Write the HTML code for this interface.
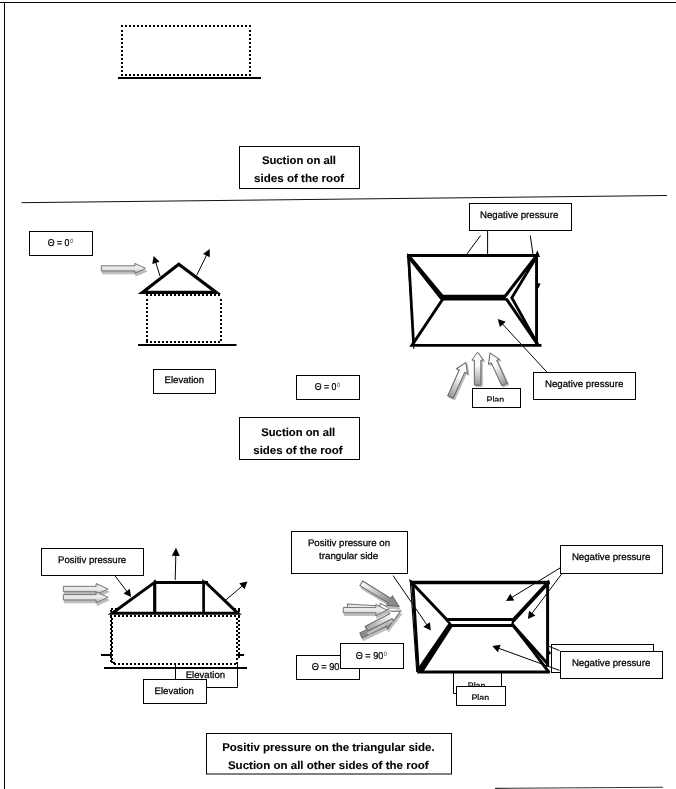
<!DOCTYPE html>
<html><head><meta charset="utf-8"><title>Roof pressure diagram</title>
<style>html,body{margin:0;padding:0;background:#fff;}body{width:676px;height:789px;overflow:hidden;font-family:"Liberation Sans",sans-serif;}svg{display:block;}text{font-family:"Liberation Sans",sans-serif;stroke:#000;stroke-width:0.25px;paint-order:stroke fill;}svg{opacity:0.999;will-change:transform;text-rendering:geometricPrecision;}</style>
</head><body>
<svg width="676" height="789" viewBox="0 0 676 789" style="font-family:'Liberation Sans',sans-serif"><defs><linearGradient id="g1" x1="0" y1="0" x2="0" y2="1"><stop offset="0" stop-color="#c4c4c4"/><stop offset="0.3" stop-color="#e9e9e9"/><stop offset="0.55" stop-color="#e9e9e9"/><stop offset="1" stop-color="#a4a4a4"/></linearGradient><linearGradient id="g2" x1="0" y1="0" x2="1" y2="0"><stop offset="0" stop-color="#989898"/><stop offset="0.6" stop-color="#fbfbfb"/><stop offset="1" stop-color="#fbfbfb"/></linearGradient><linearGradient id="g3" x1="0" y1="0" x2="1" y2="0"><stop offset="0" stop-color="#989898"/><stop offset="0.6" stop-color="#fbfbfb"/><stop offset="1" stop-color="#fbfbfb"/></linearGradient><linearGradient id="g4" x1="0" y1="0" x2="1" y2="0"><stop offset="0" stop-color="#989898"/><stop offset="0.6" stop-color="#fbfbfb"/><stop offset="1" stop-color="#fbfbfb"/></linearGradient><linearGradient id="g5" x1="0" y1="0" x2="0" y2="1"><stop offset="0" stop-color="#c4c4c4"/><stop offset="0.3" stop-color="#e9e9e9"/><stop offset="0.55" stop-color="#e9e9e9"/><stop offset="1" stop-color="#a4a4a4"/></linearGradient><linearGradient id="g6" x1="0" y1="0" x2="0" y2="1"><stop offset="0" stop-color="#c4c4c4"/><stop offset="0.3" stop-color="#e9e9e9"/><stop offset="0.55" stop-color="#e9e9e9"/><stop offset="1" stop-color="#a4a4a4"/></linearGradient><linearGradient id="g7" x1="0" y1="0" x2="1" y2="0"><stop offset="0" stop-color="#8c8c8c"/><stop offset="0.75" stop-color="#9c9c9c"/><stop offset="1" stop-color="#9c9c9c"/></linearGradient><linearGradient id="g8" x1="0" y1="0" x2="1" y2="0"><stop offset="0" stop-color="#9a9a9a"/><stop offset="0.75" stop-color="#ffffff"/><stop offset="1" stop-color="#ffffff"/></linearGradient><linearGradient id="g9" x1="0" y1="0" x2="1" y2="0"><stop offset="0" stop-color="#e8e8e8"/><stop offset="0.75" stop-color="#ffffff"/><stop offset="1" stop-color="#ffffff"/></linearGradient><linearGradient id="g10" x1="0" y1="0" x2="0" y2="1"><stop offset="0" stop-color="#c4c4c4"/><stop offset="0.3" stop-color="#e9e9e9"/><stop offset="0.55" stop-color="#e9e9e9"/><stop offset="1" stop-color="#a4a4a4"/></linearGradient><linearGradient id="g11" x1="0" y1="0" x2="1" y2="0"><stop offset="0" stop-color="#ffffff"/><stop offset="0.75" stop-color="#8c8c8c"/><stop offset="1" stop-color="#8c8c8c"/></linearGradient></defs>
<line x1="0.00" y1="2.50" x2="676.00" y2="2.50" stroke="#000" stroke-width="1" stroke-linecap="butt"/>
<line x1="4.50" y1="2.00" x2="4.50" y2="789.00" stroke="#000" stroke-width="1" stroke-linecap="butt"/>
<line x1="21.50" y1="202.70" x2="667.00" y2="195.50" stroke="#111" stroke-width="1.0" stroke-linecap="butt"/>
<line x1="495.00" y1="788.40" x2="663.00" y2="787.20" stroke="#333" stroke-width="1.1" stroke-linecap="butt"/>
<g stroke="#000" stroke-width="2" stroke-dasharray="2 2" shape-rendering="crispEdges" fill="none">
<line x1="121" y1="26" x2="251" y2="26"/>
<line x1="121" y1="75" x2="251" y2="75"/>
<line x1="122" y1="30" x2="122" y2="74"/>
<line x1="250" y1="30" x2="250" y2="74"/>
</g>
<line x1="118.00" y1="78.00" x2="261.00" y2="78.00" stroke="#000" stroke-width="2" stroke-linecap="butt"/>
<rect x="239.50" y="146.50" width="120.00" height="42.00" fill="#fff" stroke="#000" stroke-width="1"/>
<text x="261.90" y="163.80" font-size="11.2" textLength="74.10" lengthAdjust="spacingAndGlyphs" font-weight="bold" style="stroke-width:0.1px" fill="#000" >Suction on all</text>
<text x="254.10" y="181.60" font-size="11.2" textLength="90.00" lengthAdjust="spacingAndGlyphs" font-weight="bold" style="stroke-width:0.1px" fill="#000" >sides of the roof</text>
<rect x="29.50" y="231.50" width="63.00" height="24.00" fill="#fff" stroke="#000" stroke-width="1"/>
<text x="47.65" y="246.00" font-size="10" textLength="21.65" lengthAdjust="spacingAndGlyphs">Θ = 0</text>
<text x="70.30" y="242.50" font-size="6.2" textLength="2.8" lengthAdjust="spacingAndGlyphs" fill="#555" style="stroke:#555;stroke-width:0.1px">0</text>
<polygon transform="translate(102.30,271.20) rotate(0.00)" points="0.00,-2.60 33.50,-2.60 33.50,-5.00 44.50,0.00 33.50,5.00 33.50,2.60 0.00,2.60" fill="#bdbdbd" stroke="#bdbdbd" stroke-width="1"/>
<polygon transform="translate(101.30,268.40) rotate(0.00)" points="0.00,-2.60 33.50,-2.60 33.50,-5.00 44.50,0.00 33.50,5.00 33.50,2.60 0.00,2.60" fill="url(#g1)" stroke="#777" stroke-width="1" stroke-linejoin="miter"/>
<line x1="160.00" y1="276.00" x2="155.61" y2="262.01" stroke="#000" stroke-width="1" stroke-linecap="butt"/>
<polygon points="153.70,255.90 159.59,261.81 152.24,264.11" fill="#000"/>
<line x1="196.60" y1="275.50" x2="206.87" y2="254.64" stroke="#000" stroke-width="1" stroke-linecap="butt"/>
<polygon points="209.70,248.90 209.79,257.20 203.07,253.88" fill="#000"/>
<g stroke="#000" stroke-width="2" stroke-dasharray="2 2" shape-rendering="crispEdges" fill="none">
<line x1="146" y1="295" x2="222" y2="295"/>
<line x1="146" y1="342" x2="222" y2="342"/>
<line x1="147" y1="299" x2="147" y2="341"/>
<line x1="221" y1="299" x2="221" y2="341"/>
</g>
<path d="M142.40,292.40 L178.80,264.30 L216.30,292.40 Z" fill="none" stroke="#000" stroke-width="3.2" stroke-linejoin="miter"/>
<line x1="138.10" y1="345.00" x2="236.50" y2="345.00" stroke="#000" stroke-width="2" stroke-linecap="butt"/>
<rect x="153.50" y="369.50" width="62.00" height="24.00" fill="#fff" stroke="#000" stroke-width="1"/>
<text x="164.50" y="382.90" font-size="9.6" textLength="39.50" lengthAdjust="spacingAndGlyphs" fill="#000" >Elevation</text>
<rect x="296.50" y="375.50" width="63.00" height="24.00" fill="#fff" stroke="#000" stroke-width="1"/>
<text x="314.65" y="390.00" font-size="10" textLength="21.65" lengthAdjust="spacingAndGlyphs">Θ = 0</text>
<text x="337.30" y="386.50" font-size="6.2" textLength="2.8" lengthAdjust="spacingAndGlyphs" fill="#555" style="stroke:#555;stroke-width:0.1px">0</text>
<rect x="239.50" y="417.50" width="120.00" height="42.00" fill="#fff" stroke="#000" stroke-width="1"/>
<text x="261.20" y="436.30" font-size="11.2" textLength="74.00" lengthAdjust="spacingAndGlyphs" font-weight="bold" style="stroke-width:0.1px" fill="#000" >Suction on all</text>
<text x="253.30" y="454.00" font-size="11.2" textLength="89.20" lengthAdjust="spacingAndGlyphs" font-weight="bold" style="stroke-width:0.1px" fill="#000" >sides of the roof</text>
<rect x="469.50" y="203.50" width="102.00" height="27.00" fill="#fff" stroke="#000" stroke-width="1"/>
<text x="480.00" y="217.60" font-size="9.6" textLength="78.30" lengthAdjust="spacingAndGlyphs" fill="#000" >Negative pressure</text>
<line x1="480.60" y1="235.50" x2="467.00" y2="253.90" stroke="#000" stroke-width="1" stroke-linecap="butt"/>
<line x1="487.60" y1="230.60" x2="487.60" y2="254.00" stroke="#000" stroke-width="1" stroke-linecap="butt"/>
<line x1="530.30" y1="235.50" x2="532.90" y2="253.90" stroke="#000" stroke-width="1" stroke-linecap="butt"/>
<line x1="407.20" y1="255.50" x2="538.00" y2="255.50" stroke="#000" stroke-width="3" stroke-linecap="butt"/>
<line x1="536.55" y1="254.00" x2="536.55" y2="346.00" stroke="#000" stroke-width="2.9" stroke-linecap="butt"/>
<line x1="408.60" y1="256.00" x2="413.70" y2="346.00" stroke="#000" stroke-width="2.8" stroke-linecap="butt"/>
<line x1="407.60" y1="253.50" x2="413.90" y2="349.00" stroke="#000" stroke-width="1" stroke-linecap="butt"/>
<line x1="441.50" y1="297.60" x2="506.00" y2="297.60" stroke="#000" stroke-width="5.8" stroke-linecap="butt"/>
<line x1="408.50" y1="255.50" x2="443.00" y2="297.00" stroke="#000" stroke-width="3" stroke-linecap="butt"/>
<line x1="407.60" y1="256.00" x2="441.50" y2="299.00" stroke="#000" stroke-width="2.6" stroke-linecap="butt"/>
<path d="M443.5,298 L411.9,345.4 L541.5,345.4" fill="none" stroke="#000" stroke-width="2.9" stroke-linejoin="miter" stroke-miterlimit="10"/>
<line x1="536.30" y1="256.00" x2="505.30" y2="296.00" stroke="#000" stroke-width="3" stroke-linecap="butt"/>
<line x1="506.00" y1="298.50" x2="538.00" y2="345.00" stroke="#000" stroke-width="3" stroke-linecap="butt"/>
<path d="M536.5,257 L511.8,297.7 L537.5,344" fill="none" stroke="#000" stroke-width="2.8" stroke-linejoin="miter"/>
<polygon points="537.4,250.2 540,257 534.5,257" fill="#000"/>
<polygon points="538.4,288.5 536,283 540.6,283.5" fill="#000"/>
<line x1="546.90" y1="372.10" x2="502.14" y2="323.60" stroke="#000" stroke-width="1" stroke-linecap="butt"/>
<polygon points="497.80,318.90 505.76,321.63 499.88,327.05" fill="#000"/>
<rect x="533.50" y="372.50" width="102.00" height="27.00" fill="#fff" stroke="#000" stroke-width="1"/>
<text x="545.00" y="386.50" font-size="9.6" textLength="78.30" lengthAdjust="spacingAndGlyphs" fill="#000" >Negative pressure</text>
<polygon transform="translate(452.00,398.50) rotate(-66.08)" points="0.00,-3.00 28.24,-3.00 28.24,-6.00 37.74,0.00 28.24,6.00 28.24,3.00 0.00,3.00" fill="#bdbdbd" stroke="#bdbdbd" stroke-width="1"/>
<polygon transform="translate(450.50,397.00) rotate(-66.08)" points="0.00,-3.00 28.24,-3.00 28.24,-6.00 37.74,0.00 28.24,6.00 28.24,3.00 0.00,3.00" fill="url(#g2)" stroke="#666" stroke-width="1" stroke-linejoin="miter"/>
<polygon transform="translate(479.10,386.60) rotate(-90.00)" points="0.00,-3.25 25.00,-3.25 25.00,-5.70 33.00,0.00 25.00,5.70 25.00,3.25 0.00,3.25" fill="#bdbdbd" stroke="#bdbdbd" stroke-width="1"/>
<polygon transform="translate(477.60,385.10) rotate(-90.00)" points="0.00,-3.25 25.00,-3.25 25.00,-5.70 33.00,0.00 25.00,5.70 25.00,3.25 0.00,3.25" fill="url(#g3)" stroke="#666" stroke-width="1" stroke-linejoin="miter"/>
<polygon transform="translate(506.00,385.90) rotate(-114.79)" points="0.00,-3.00 25.09,-3.00 25.09,-6.00 34.59,0.00 25.09,6.00 25.09,3.00 0.00,3.00" fill="#bdbdbd" stroke="#bdbdbd" stroke-width="1"/>
<polygon transform="translate(504.50,384.40) rotate(-114.79)" points="0.00,-3.00 25.09,-3.00 25.09,-6.00 34.59,0.00 25.09,6.00 25.09,3.00 0.00,3.00" fill="url(#g4)" stroke="#666" stroke-width="1" stroke-linejoin="miter"/>
<rect x="472.50" y="388.50" width="48.00" height="19.00" fill="#fff" stroke="#000" stroke-width="1"/>
<text x="486.50" y="402.60" font-size="9.6" textLength="17.70" lengthAdjust="spacingAndGlyphs" fill="#000" >Plan</text>
<rect x="474" y="401.7" width="45" height="5" fill="#fff"/>
<rect x="41.50" y="548.50" width="102.00" height="27.00" fill="#fff" stroke="#000" stroke-width="1"/>
<text x="58.00" y="563.00" font-size="9.6" textLength="68.20" lengthAdjust="spacingAndGlyphs" fill="#000" >Positiv pressure</text>
<line x1="115.20" y1="576.00" x2="127.25" y2="591.99" stroke="#000" stroke-width="1" stroke-linecap="butt"/>
<polygon points="131.10,597.10 123.45,593.60 129.84,588.78" fill="#000"/>
<polygon transform="translate(64.40,591.80) rotate(0.00)" points="0.00,-2.70 32.70,-2.70 32.70,-5.50 44.70,0.00 32.70,5.50 32.70,2.70 0.00,2.70" fill="#bdbdbd" stroke="#bdbdbd" stroke-width="1"/>
<polygon transform="translate(63.40,589.00) rotate(0.00)" points="0.00,-2.70 32.70,-2.70 32.70,-5.50 44.70,0.00 32.70,5.50 32.70,2.70 0.00,2.70" fill="url(#g5)" stroke="#777" stroke-width="1" stroke-linejoin="miter"/>
<polygon transform="translate(64.40,600.10) rotate(0.00)" points="0.00,-2.70 32.70,-2.70 32.70,-5.50 44.70,0.00 32.70,5.50 32.70,2.70 0.00,2.70" fill="#bdbdbd" stroke="#bdbdbd" stroke-width="1"/>
<polygon transform="translate(63.40,597.30) rotate(0.00)" points="0.00,-2.70 32.70,-2.70 32.70,-5.50 44.70,0.00 32.70,5.50 32.70,2.70 0.00,2.70" fill="url(#g6)" stroke="#777" stroke-width="1" stroke-linejoin="miter"/>
<line x1="175.20" y1="579.90" x2="175.83" y2="554.80" stroke="#000" stroke-width="1" stroke-linecap="butt"/>
<polygon points="176.00,547.80 179.80,555.90 171.80,555.70" fill="#000"/>
<line x1="225.60" y1="600.20" x2="242.63" y2="585.66" stroke="#000" stroke-width="1" stroke-linecap="butt"/>
<polygon points="247.50,581.50 244.47,589.35 239.28,583.26" fill="#000"/>
<path d="M175.5,663.5 L175.5,687.5 L237.5,687.5 L237.5,663.5" fill="#fff" stroke="#000" stroke-width="1"/>
<text x="185.70" y="677.60" font-size="9.6" textLength="39.50" lengthAdjust="spacingAndGlyphs" fill="#000" >Elevation</text>
<g stroke="#000" stroke-width="2" stroke-dasharray="2 2" shape-rendering="crispEdges" fill="none">
<line x1="110" y1="615.5" x2="240" y2="615.5"/>
<line x1="114" y1="664" x2="236" y2="664"/>
<line x1="111" y1="616" x2="111" y2="662"/>
<line x1="112.4" y1="618" x2="112.4" y2="662"/>
<line x1="237" y1="618" x2="237" y2="665"/>
<line x1="239" y1="616" x2="239" y2="659"/>
<path d="M111,612 L111,608 M111,608.5 L118,608.5"/><path d="M239,612 L239,608 M240,608.5 L233,608.5"/>
<path d="M112,661 L112,663 M113,663 L115,663"/>
</g>
<path d="M112.20,613.30 L154.60,582.40 L205.70,582.40 L238.00,613.30 Z" fill="none" stroke="#000" stroke-width="3" stroke-linejoin="miter"/>
<line x1="154.70" y1="582.40" x2="154.70" y2="613.00" stroke="#000" stroke-width="3.2" stroke-linecap="butt"/>
<line x1="203.60" y1="580.50" x2="203.60" y2="613.00" stroke="#000" stroke-width="2.7" stroke-linecap="butt"/>
<line x1="205.00" y1="582.40" x2="208.00" y2="582.40" stroke="#000" stroke-width="2.8" stroke-linecap="butt"/>
<polygon points="202.3,578.8 204.5,581.5 202.3,581.5" fill="#000"/>
<polygon points="153.2,581.2 155.3,579.2 156.2,581.2" fill="#000"/>
<line x1="101.00" y1="655.00" x2="112.00" y2="655.00" stroke="#000" stroke-width="2" stroke-linecap="butt"/>
<line x1="236.50" y1="655.00" x2="244.10" y2="655.00" stroke="#000" stroke-width="2" stroke-linecap="butt"/>
<line x1="104.00" y1="668.00" x2="247.00" y2="668.00" stroke="#000" stroke-width="1.9" stroke-linecap="butt"/>
<rect x="143.50" y="679.50" width="63.00" height="24.00" fill="#fff" stroke="#000" stroke-width="1"/>
<text x="154.60" y="693.70" font-size="9.6" textLength="39.30" lengthAdjust="spacingAndGlyphs" fill="#000" >Elevation</text>
<rect x="291.50" y="531.50" width="116.00" height="42.00" fill="#fff" stroke="#000" stroke-width="1"/>
<text x="307.90" y="545.60" font-size="9.6" textLength="82.20" lengthAdjust="spacingAndGlyphs" fill="#000" >Positiv pressure on</text>
<text x="319.00" y="559.10" font-size="9.6" textLength="59.20" lengthAdjust="spacingAndGlyphs" fill="#000" >trangular side</text>
<polygon transform="translate(362.00,638.20) rotate(-25.73)" points="0.00,-2.75 26.85,-2.75 26.85,-5.50 36.85,0.00 26.85,5.50 26.85,2.75 0.00,2.75" fill="#bdbdbd" stroke="#bdbdbd" stroke-width="1"/>
<polygon transform="translate(361.00,635.40) rotate(-25.73)" points="0.00,-2.75 26.85,-2.75 26.85,-5.50 36.85,0.00 26.85,5.50 26.85,2.75 0.00,2.75" fill="url(#g7)" stroke="#666" stroke-width="1" stroke-linejoin="miter"/>
<polygon transform="translate(367.40,631.60) rotate(-27.30)" points="0.00,-2.75 27.60,-2.75 27.60,-5.50 38.60,0.00 27.60,5.50 27.60,2.75 0.00,2.75" fill="#bdbdbd" stroke="#bdbdbd" stroke-width="1"/>
<polygon transform="translate(366.40,628.80) rotate(-27.30)" points="0.00,-2.75 27.60,-2.75 27.60,-5.50 38.60,0.00 27.60,5.50 27.60,2.75 0.00,2.75" fill="url(#g8)" stroke="#666" stroke-width="1" stroke-linejoin="miter"/>
<polygon transform="translate(348.40,608.80) rotate(3.36)" points="0.00,-2.00 32.67,-2.00 32.67,-4.50 42.67,0.00 32.67,4.50 32.67,2.00 0.00,2.00" fill="#bdbdbd" stroke="#bdbdbd" stroke-width="1"/>
<polygon transform="translate(347.40,606.00) rotate(3.36)" points="0.00,-2.00 32.67,-2.00 32.67,-4.50 42.67,0.00 32.67,4.50 32.67,2.00 0.00,2.00" fill="url(#g9)" stroke="#777" stroke-width="1" stroke-linejoin="miter"/>
<polygon transform="translate(344.30,612.90) rotate(0.00)" points="0.00,-2.65 32.50,-2.65 32.50,-5.60 43.70,0.00 32.50,5.60 32.50,2.65 0.00,2.65" fill="#bdbdbd" stroke="#bdbdbd" stroke-width="1"/>
<polygon transform="translate(343.30,610.10) rotate(0.00)" points="0.00,-2.65 32.50,-2.65 32.50,-5.60 43.70,0.00 32.50,5.60 32.50,2.65 0.00,2.65" fill="url(#g10)" stroke="#777" stroke-width="1" stroke-linejoin="miter"/>
<polygon transform="translate(362.30,586.10) rotate(31.56)" points="0.00,-2.65 33.13,-2.65 33.13,-5.50 44.13,0.00 33.13,5.50 33.13,2.65 0.00,2.65" fill="#bdbdbd" stroke="#bdbdbd" stroke-width="1"/>
<polygon transform="translate(361.30,583.30) rotate(31.56)" points="0.00,-2.65 33.13,-2.65 33.13,-5.50 44.13,0.00 33.13,5.50 33.13,2.65 0.00,2.65" fill="url(#g11)" stroke="#666" stroke-width="1" stroke-linejoin="miter"/>
<rect x="296.50" y="655.50" width="63.00" height="24.00" fill="#fff" stroke="#000" stroke-width="1"/>
<text x="311.70" y="670.10" font-size="10" textLength="27.80" lengthAdjust="spacingAndGlyphs">Θ = 90</text>
<rect x="340.50" y="643.50" width="63.00" height="25.00" fill="#fff" stroke="#000" stroke-width="1"/>
<text x="355.80" y="659.20" font-size="10" textLength="27.50" lengthAdjust="spacingAndGlyphs">Θ = 90</text>
<text x="384.10" y="655.70" font-size="6.2" textLength="2.8" lengthAdjust="spacingAndGlyphs" fill="#555" style="stroke:#555;stroke-width:0.1px">0</text>
<path d="M453.5,672 L453.5,693.5 L501.5,693.5 L501.5,672" fill="#fff" stroke="#000" stroke-width="1"/>
<text x="467.80" y="689.00" font-size="9.6" textLength="17.60" lengthAdjust="spacingAndGlyphs" fill="#000" >Plan</text>
<rect x="456.50" y="686.50" width="49.00" height="19.00" fill="#fff" stroke="#000" stroke-width="1"/>
<text x="471.50" y="701.00" font-size="9.6" textLength="17.60" lengthAdjust="spacingAndGlyphs" fill="#000" >Plan</text>
<rect x="458" y="700" width="46" height="4.8" fill="#fff"/>
<rect x="560.50" y="545.50" width="102.00" height="28.00" fill="#fff" stroke="#000" stroke-width="1"/>
<text x="571.90" y="560.20" font-size="9.6" textLength="78.40" lengthAdjust="spacingAndGlyphs" fill="#000" >Negative pressure</text>
<rect x="551.50" y="644.50" width="102.00" height="28.00" fill="#fff" stroke="#000" stroke-width="1"/>
<line x1="410.90" y1="582.50" x2="549.60" y2="582.50" stroke="#000" stroke-width="3.3" stroke-linecap="butt"/>
<line x1="417.20" y1="672.00" x2="549.80" y2="672.00" stroke="#000" stroke-width="2.8" stroke-linecap="butt"/>
<line x1="547.60" y1="581.00" x2="547.60" y2="666.50" stroke="#000" stroke-width="3" stroke-linecap="butt"/>
<line x1="412.80" y1="583.00" x2="418.30" y2="672.00" stroke="#000" stroke-width="3" stroke-linecap="butt"/>
<line x1="410.30" y1="580.50" x2="416.80" y2="672.00" stroke="#000" stroke-width="1.2" stroke-linecap="butt"/>
<line x1="445.90" y1="619.60" x2="513.50" y2="619.60" stroke="#000" stroke-width="3" stroke-linecap="butt"/>
<line x1="449.60" y1="625.40" x2="512.00" y2="625.40" stroke="#000" stroke-width="3" stroke-linecap="butt"/>
<line x1="412.50" y1="583.50" x2="448.10" y2="621.00" stroke="#000" stroke-width="3" stroke-linecap="butt"/>
<line x1="446.50" y1="619.50" x2="450.50" y2="624.50" stroke="#000" stroke-width="2.5" stroke-linecap="butt"/>
<polygon points="417,669.3 422.4,673.2 452.6,626.4 448.4,623.4" fill="#000"/>
<line x1="547.80" y1="583.00" x2="512.80" y2="620.80" stroke="#000" stroke-width="4" stroke-linecap="butt"/>
<line x1="512.40" y1="624.50" x2="547.60" y2="663.80" stroke="#000" stroke-width="3" stroke-linecap="butt"/>
<path d="M512.4,624.5 L531,648.3 L549.2,672.6" fill="none" stroke="#000" stroke-width="3" stroke-linejoin="round"/>
<line x1="513.30" y1="620.00" x2="512.00" y2="626.00" stroke="#000" stroke-width="2.2" stroke-linecap="butt"/>
<polygon points="409,579 416,583 411,586" fill="#000"/>
<polygon points="548.2,579.2 550.4,584 546,584" fill="#000"/>
<line x1="393.10" y1="575.60" x2="427.18" y2="625.22" stroke="#000" stroke-width="1" stroke-linecap="butt"/>
<polygon points="430.80,630.50 423.31,626.66 429.91,622.14" fill="#000"/>
<line x1="560.50" y1="567.70" x2="511.46" y2="597.66" stroke="#000" stroke-width="1" stroke-linecap="butt"/>
<polygon points="506.00,601.00 510.23,593.73 514.40,600.56" fill="#000"/>
<line x1="562.00" y1="573.50" x2="531.65" y2="613.88" stroke="#000" stroke-width="1" stroke-linecap="butt"/>
<polygon points="527.80,619.00 529.05,610.68 535.44,615.49" fill="#000"/>
<line x1="559.50" y1="670.40" x2="498.32" y2="648.18" stroke="#000" stroke-width="1" stroke-linecap="butt"/>
<polygon points="492.30,646.00 500.62,644.77 497.89,652.29" fill="#000"/>
<line x1="549.20" y1="646.40" x2="559.50" y2="650.60" stroke="#000" stroke-width="1" stroke-linecap="butt"/>
<polygon points="548.8,650.5 551.2,653 548.8,655" fill="#000"/>
<rect x="560.50" y="651.50" width="102.00" height="27.00" fill="#fff" stroke="#000" stroke-width="1"/>
<text x="571.90" y="666.20" font-size="9.6" textLength="78.40" lengthAdjust="spacingAndGlyphs" fill="#000" >Negative pressure</text>
<rect x="206.50" y="733.50" width="245.00" height="40.50" fill="#fff" stroke="#000" stroke-width="1"/>
<text x="222.20" y="750.70" font-size="11.2" textLength="212.40" lengthAdjust="spacingAndGlyphs" font-weight="bold" style="stroke-width:0.1px" fill="#000" >Positiv pressure on the triangular side.</text>
<text x="227.90" y="768.70" font-size="11.2" textLength="200.70" lengthAdjust="spacingAndGlyphs" font-weight="bold" style="stroke-width:0.1px" fill="#000" >Suction on all other sides of the roof</text>
</svg>
</body></html>
